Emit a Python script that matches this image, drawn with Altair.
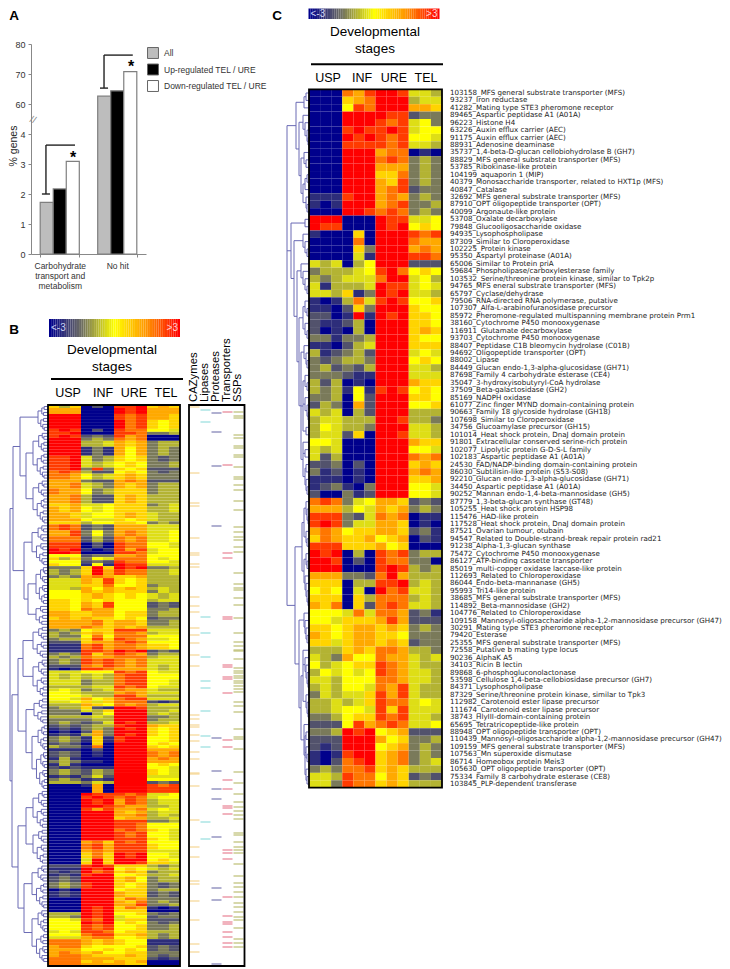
import altair as alt
import pandas as pd

# ---------- Panel A data ----------
A_GROUPS = ["Carbohydrate|transport and|metabolism", "No hit"]
A_SERIES = ["All", "Up-regulated TEL / URE", "Down-regulated TEL / URE"]
A_COLORS = ["#bdbdbd", "#000000", "#ffffff"]
A_VALUES = [[1.72, 2.17, 3.09], [62.6, 64.4, 70.8]]
A_TICKS = [0, 1, 2, 3, 4, 60, 70, 80]

# ---------- Panel C data ----------
C_GENES = """103158_MFS general substrate transporter (MFS)
93237_Iron reductase
41282_Mating type STE3 pheromone receptor
89465_Aspartic peptidase A1 (A01A)
96223_Histone H4
63226_Auxin efflux carrier (AEC)
91175_Auxin efflux carrier (AEC)
88931_Adenosine deaminase
35737_1,4-beta-D-glucan cellobiohydrolase B (GH7)
88829_MFS general substrate transporter (MFS)
53785_Ribokinase-like protein
104199_aquaporin 1 (MIP)
40379_Monosaccharide transporter, related to HXT1p (MFS)
40847_Catalase
32692_MFS general substrate transporter (MFS)
87910_OPT oligopeptide transporter (OPT)
40099_Argonaute-like protein
53708_Oxalate decarboxylase
79848_Glucooligosaccharide oxidase
94935_Lysophospholipase
87309_Similar to Cloroperoxidase
102225_Protein kinase
95350_Aspartyl proteinase (A01A)
65006_Similar to Protein priA
59684_Phospholipase/carboxylesterase family
103532_Serine/threonine protein kinase, similar to Tpk2p
94765_MFS eneral substrate transporter (MFS)
65797_Cyclase/dehydrase
79506_RNA-directed RNA polymerase, putative
107307_Alfa-L-arabinofuranosidase precursor
85972_Pheromone-regulated multispanning membrane protein Prm1
38160_Cytochrome P450 monooxygenase
116911_Glutamate decarboxylase
93703_Cytochrome P450 monooxygenase
88407_Peptidase C1B bleomycin hydrolase (C01B)
94692_Oligopeptide transporter (OPT)
88002_Lipase
84449_Glucan endo-1,3-alpha-glucosidase (GH71)
87698_Family 4 carbohydrate esterase (CE4)
35047_3-hydroxyisobutyryl-CoA hydrolase
37509_Beta-galactosidase (GH2)
85169_NADPH oxidase
61077_Zinc finger MYND domain-containing protein
90663_Family 18 glycoside hydrolase (GH18)
107698_Similar to Cloroperoxidase
34756_Glucoamylase precursor (GH15)
101014_Heat shock protein, DnaJ domain protein
91801_Extracellular conserved serine-rich protein
102077_Lipolytic protein G-D-S-L family
102183_Aspartic peptidase A1 (A01A)
24530_FAD/NADP-binding domain-containing protein
86030_Subtilisin-like protein (S53-S08)
92210_Glucan endo-1,3-alpha-glucosidase (GH71)
34450_Aspartic peptidase A1 (A01A)
90252_Mannan endo-1,4-beta-mannosidase (GH5)
87779_1,3-beta-glucan synthase (GT48)
105255_Heat shock protein HSP98
115476_HAD-like protein
117528_Heat shock protein, DnaJ domain protein
87521_Ovarian tumour, otubain
94547_Related to Double-strand-break repair protein rad21
91238_Alpha-1,3-glucan synthase
75472_Cytochrome P450 monooxygenase
86127_ATP-binding cassette transporter
85019_multi-copper oxidase laccase-like protein
112693_Related to Chloroperoxidase
86044_Endo-beta-mannanase (GH5)
95993_Tri14-like protein
38685_MFS general substrate transporter (MFS)
114892_Beta-mannosidase (GH2)
104776_Related to Chloroperoxidase
109158_Mannosyl-oligosaccharide alpha-1,2-mannosidase precursor (GH47)
30291_Mating type STE3 pheromone receptor
79420_Esterase
25355_MFS general substrate transporter (MFS)
72558_Putative b mating type locus
90236_AlphaK A5
34103_Ricin B lectin
89868_6-phosphogluconolactonase
53598_Cellulose 1,4-beta-cellobiosidase precursor (GH7)
84371_Lysophospholipase
87329_Serine/threonine protein kinase, similar to Tpk3
112982_Carotenoid ester lipase precursor
111674_Carotenoid ester lipase precursor
38743_HlyIII-domain-containing protein
65695_Tetratricopeptide-like protein
88948_OPT oligopeptide transporter (OPT)
110439_Mannosyl-oligosaccharide alpha-1,2-mannosidase precursor (GH47)
109159_MFS general substrate transporter (MFS)
107563_Mn superoxide dismutase
86714_Homeobox protein Meis3
105630_OPT oligopeptide transporter (OPT)
75334_Family 8 carbohydrate esterase (CE8)
103845_PLP-dependent transferase""".split("\n")

# expression levels, one character per replicate: 0 (lowest) ... 9, A, X (highest)
C_ROWS = """000 98A XXA 554
000 789 XXX 455
000 6A9 XXX 887
000 XXX XAA 233
000 XXX A9A 563
000 AXA AXA 566
000 XAX A9A 665
000 AAA A9A 554
000 XXX 899 010
000 XXX 9A9 343
000 XXX 888 343
000 XXX 779 343
000 XXX 87A 343
000 XXX 89A 233
111 AXX 898 343
101 XXX 89A 334
000 XXA 9A9 343
XXX 000 XAA 556
XAA 000 XAX 676
100 070 XXX A9A
000 090 XXX 988
000 073 XXX 898
000 051 XXX AA9
545 046 XXX 222
344 456 AX9 676
434 555 9XX 564
514 445 XAA 565
554 713 XAX 554
101 495 AXA 667
110 273 XXX 766
220 1X1 XAX 776
211 240 XXX 776
201 040 XXX 787
331 334 XXX 766
110 245 XXX 777
412 342 XXX 565
323 443 XXX 676
342 324 XXX 554
333 211 XXX 555
424 010 XXX 877
434 161 AXA 676
334 062 XXX 776
243 082 XXX 667
545 042 XXX 444
455 444 XXA 443
465 443 XXX 554
455 270 XXA 554
665 000 XXX 877
545 000 XXX 665
524 000 XXX 989
223 020 XXX 787
312 010 XXX 898
111 010 XXX 778
123 103 XXX 665
200 312 XXX 665
9A9 356 887 232
888 465 878 343
AAA 325 989 011
AXA 355 887 010
898 677 887 231
798 778 678 021
AAA 777 867 000
XAX 040 A9A 344
XXA 020 A99 330
XXX 000 AXA 434
888 332 9X8 444
777 044 AAX 454
676 050 X9A 554
777 074 999 454
879 072 9A9 554
666 595 998 231
665 777 8A8 222
776 788 787 343
876 788 776 333
775 788 787 233
444 787 998 443
543 866 988 545
645 677 A98 544
465 656 A98 554
554 666 998 554
454 665 98A 544
354 557 A8A 544
445 457 A99 565
445 665 A7A 555
334 677 A9A 554
222 6A8 9A9 556
334 XAX 678 222
222 XXX 867 334
212 XXX 678 343
101 AXX 789 343
102 9AX 789 345
343 99A 787 444
554 A99 687 232
553 A99 787 444""".split("\n")

# ---------- Panel B data: (rows of identical colour, 12 replicates) ----------
B_RUNS = [
(1,"747020AAX787"),(2,"888000XAX888"),(2,"XXX000A9A887"),(3,"XXX000X9A767"),(1,"AXA020A99665"),
(1,"AAX000AA9334"),(1,"AXA232A89000"),(1,"XXX343989000"),(2,"XXX445878344"),(3,"XXX131868343"),
(2,"AAX534767323"),(2,"AAX545676334"),(1,"AAX3A3767222"),(1,"9A9422676323"),(2,"998645787333"),
(1,"888322898222"),(2,"889543878344"),(2,"988634777344"),(3,"889422787444"),(1,"778556777345"),
(2,"878656777445"),(2,"887566787544"),(1,"888655767544"),(1,"777466776343"),
(2,"9A9232888555"),(2,"88A363898556"),(2,"999242989556"),(2,"AAA020A99665"),(1,"XAX101A8A566"),
(1,"XXA000AA9566"),(1,"666233889666"),(1,"747365999656"),(1,"666232A99665"),(1,"766161XAA555"),
(1,"3337X7XAX334"),(2,"4347X8A99445"),(1,"343898778444"),(2,"55587A767444"),(1,"555779667344"),
(1,"554868787454"),(1,"666878777354"),
(2,"666787676545"),(1,"776767666455"),(2,"77687A666232"),(1,"776988666334"),(2,"887788677344"),
(1,"787877676233"),(2,"888897887334"),(1,"888987878444"),
(1,"343677AAA555"),(1,"434787998455"),(1,"433696999666"),(1,"3447A7A98556"),(1,"2227889A9666"),(2,"1119A8998776"),
(1,"111AA9XAX232"),
(1,"343A79A98344"),(1,"434988999455"),(2,"343A9A989555"),(1,"22298A989545"),(1,"101AA9888545"),
(1,"555666A9A655"),(2,"5454549AA666"),
(2,"5553449AA665"),(1,"444455A9A655"),(1,"565345988544"),
(1,"665444898555"),(1,"666544AA8444"),(1,"6658679AA555"),(1,"556757999212"),(1,"444876989455"),
(1,"344721XXA444"),(1,"333547XXX445"),(1,"333046XXX454"),(1,"444454XXX334"),(1,"333344XXX344"),
(1,"343235XAX445"),(1,"232344AXX877"),(1,"121343XAX767"),
(1,"010283XXX767"),(1,"121483XAX767"),(2,"343171AXX667"),(1,"232070XXX676"),(1,"433190XXX767"),
(1,"111020XXX888"),(2,"232010XXX989"),(1,"141000XXX898"),(1,"343110XXX888"),
(1,"141000XXX676"),(1,"212111XXX665"),(2,"343243XXX765"),(1,"121352XXX555"),(1,"343121XXX666"),
(1,"444354XXX232"),(1,"000180XXXA9A"),(2,"000080XXXAAA"),
(1,"000XAAA9A556"),(1,"000AXA9A9566"),(2,"000XAX8A9455"),(1,"000XXA988445"),(1,"000A8A889565"),
(1,"000XXX878455"),(1,"000XXX889454"),(1,"000XXX788445"),(1,"000XXXAAA334"),
(2,"000XXXAA9666"),(1,"000XXX9A9765"),(2,"000XXXA9A665"),(1,"000XXXAAA765"),
(1,"000897A9A666"),(2,"0009A8AAA766"),(1,"000898AAA555"),(2,"000797XAX665"),(1,"0005X7XXX676"),(1,"0007X7XXA775"),
(1,"222AXA777434"),(1,"111XAX676545"),(1,"212X9A787344"),(1,"121AXX667445"),(2,"232XXX786344"),
(2,"343AXX767323"),(1,"010XXX677344"),(2,"121XXX877232"),
(1,"000XXX798333"),(1,"000XXX879343"),(1,"000XXX88A334"),(1,"000XAX798101"),(1,"000XAX777000"),
(1,"444XAX667323"),(1,"443XAX566233"),(1,"665A9X577222"),(1,"666XAX676323"),(2,"666A9A667334"),
(1,"565AA9677444"),(1,"6669AA778434"),(1,"555899667434"),
(2,"999878766111"),(1,"899766667232"),(1,"888667676232"),(1,"898786677333"),(1,"899877787323"),
(1,"999888777212"),(1,"999787878000"),(1,"999888877000"),
]

B_TRACKS = ["CAZymes", "Lipases", "Proteases", "Transporters", "SSPs"]
B_TRACK_COLORS = ["#f3d28a", "#8fdcdc", "#7272ac", "#e5788a", "#b7b96a"]
B_CAZY = [2,68,98,101,133,148,150,159,162,192,201,207,223,230,238,250,261,310,314,320,322,330,336,347,354,368,369,381,415,442,452,476,479,496,515,539,547]
B_LIPASE = [5,17,212,228,252,276,283,306,331,342,417,434]
B_PROTEASE = [8,27,61,121,333,366,384,394,432,483,495,559]
B_TRANSPORT = [7,60,148,153,212,214,260,262,272,274,288,335,342,375,384,401,403,409,445,448,454,492,511,517,519,527,532,538,542]
B_SSP = [7,11,13,30,33,41,43,50,52,62,72,74,80,85,96,105,122,127,132,135,142,147,168,179,183,185,193,200,213,228,237,241,245,
         246,254,263,266,268,271,273,276,278,281,284,287,297,301,307,324,332,334,344,367,378,389,397,402,406,410,414,428,430,
         437,442,445,448,459,471,478,482,487,492,498,502,507,512,515,523,534,538,542]

LEVELS = {"0":-3,"1":-2.4,"2":-1.9,"3":-1.4,"4":-0.8,"5":-0.35,"6":0,"7":0.6,"8":1.2,"9":1.8,"A":2.4,"X":3}
RAMP = [round(-3 + i * 0.1, 1) for i in range(61)]

# ---------- Dendrogram structure (depth, children); int = row; ("r",lo,hi,d) = fine cluster ----------
C_TREE = (22,[
 (13,[(5,[(3,[0,1]),2]),(10,[(6,[3,(4,[4,(2,[5,(1,[6,7])])])]),(8,[(5,[8,(3,[9,10])]),(6,[(4,[(2,[11,12]),13]),(3,[14,(2,[15,16])])])])])]),
 (18,[(4,[17,18]),
  (15,[(6,[19,(4,[20,(2,[21,22])])]),
   (12,[(8,[23,(6,[24,(4,[25,(2,[26,27])])])]),
    (10,[(6,[(4,[28,(2,[29,30])]),(4,[31,(2,[32,33])])]),
     (8,[(5,[34,(3,[35,(2,[36,37])])]),
      (6,[(4,[38,(2,[39,40])]),(4,[41,(2,[42,(1,[43,44])])]),(3,[45,46])]),
      (6,[47,(4,[48,49]),(4,[(3,[50,51]),(3,[52,(2,[53,54])])])])])])])])]),
 (14,[(7,[(5,[(3,[55,(2,[56,(1,[57,58])])]),(3,[59,(2,[60,61])])]),
          (5,[(3,[62,(2,[63,64])]),(4,[65,(3,[66,(2,[67,(1,[68,69])])])])])]),
      (10,[(5,[70,(4,[71,(3,[72,(2,[73,74])])])]),
           (8,[(6,[75,(4,[76,(3,[77,(2,[78,(1,[79,80])])])]),(3,[81,(2,[82,(1,[83,84])])])]),
               (5,[85,(4,[(3,[86,87]),(3,[88,(2,[89,90])]),(3,[91,(2,[92,93])])])])])])])])

B_TREE = (38,[
 (35,[(28,[("r",0,8,10),(22,[("r",9,24,15),("r",25,39,15)])]),
      (24,[("r",40,53,16),(20,[("r",54,66,12),("r",67,73,12)])])]),
 (36,[(30,[(25,[("r",74,84,15),("r",85,97,15)]),
           (22,[("r",98,106,14),("r",107,128,16)])]),
      (30,[(22,[("r",129,141,15),("r",142,153,15)]),
           (24,[("r",154,168,16),("r",169,186,16)])])])])

# ---------- helpers (all pixel arguments are page coordinates) ----------
M = 8
W, H = 714, 959
def rng(a, b):
    return [a - M, b - M]

def flatten(node, segs):
    """Return (depth, y) of a node and add its branches to segs."""
    if isinstance(node, int):
        return 0, node + 0.5
    if node[0] == "r":
        _, lo, hi, d = node
        if lo == hi:
            return 0, lo + 0.5
        if hi - lo == 1:
            node = (d, [lo, hi])
        else:
            mid = lo + max(0, int((hi - lo) * 0.42))
            node = (d, [("r", lo, mid, d * 0.62), ("r", mid + 1, hi, d * 0.72)])
    d, children = node
    pts = [flatten(c, segs) for c in children]
    for cd, cy in pts:
        segs.append({"d1": cd, "d2": d, "y1": cy, "y2": cy})
    y0, y1 = pts[0][1], pts[-1][1]
    segs.append({"d1": d, "d2": d, "y1": y0, "y2": y1})
    return d, (y0 + y1) / 2

def dendro(tree, maxd, x0, x1, nrows, y0, y1):
    segs = []
    flatten(tree, segs)
    sx = alt.Scale(domain=[maxd, 0], range=rng(x0, x1), nice=False, zero=False)
    sy = alt.Scale(domain=[0, nrows], range=rng(y0, y1), nice=False, zero=False)
    return alt.Chart(pd.DataFrame(segs)).mark_rule(color="#6a6ab4", strokeWidth=1).encode(
        x=alt.X("d1:Q", scale=sx, axis=None), x2="d2:Q",
        y=alt.Y("y1:Q", scale=sy, axis=None), y2="y2:Q")

HEAT_COLOR = alt.Color("v:Q", legend=None, scale=alt.Scale(
    domain=[-3, -1.5, 0, 1.5, 3], interpolate="rgb",
    range=["#00008c", "#707060", "#ffff00", "#ff9400", "#ff0000"]))

def heat(rows, x0, x1, y0, y1):
    recs = [{"r": i, "c": j, "v": LEVELS[ch]} for i, row in enumerate(rows) for j, ch in enumerate(row)]
    return alt.Chart(pd.DataFrame(recs)).mark_rect().encode(
        x=alt.X("c:O", axis=None, scale=alt.Scale(type="band", domain=list(range(12)), range=rng(x0, x1), paddingInner=0, paddingOuter=0)),
        y=alt.Y("r:O", axis=None, scale=alt.Scale(type="band", domain=list(range(len(rows))), range=rng(y0, y1), paddingInner=0, paddingOuter=0)),
        color=HEAT_COLOR)

def frame(x0, x1, y0, y1, w=1.8):
    return alt.Chart(pd.DataFrame({"k": [0]})).mark_rect(fill=None, stroke="black", strokeWidth=w).encode(
        x=alt.value(x0 - M), x2=alt.value(x1 - M), y=alt.value(y0 - M), y2=alt.value(y1 - M))

def hline(x0, x1, y, w=2, color="black"):
    return alt.Chart(pd.DataFrame({"k": [0]})).mark_rule(color=color, strokeWidth=w).encode(
        x=alt.value(x0 - M), x2=alt.value(x1 - M), y=alt.value(y - M))

def label(t, x, y, size=12, font="Liberation Sans", color="black", align="center", angle=0, weight="normal", baseline="middle"):
    return alt.Chart(pd.DataFrame({"t": [t]})).mark_text(
        fontSize=size, font=font, color=color, align=align, angle=angle, fontWeight=weight, baseline=baseline).encode(
        text="t:N", x=alt.value(x - M), y=alt.value(y - M))

def colorbar(x0, x1, y0, y1, ytext):
    bar = alt.Chart(pd.DataFrame({"v": RAMP})).mark_rect().encode(
        x=alt.X("v:O", axis=None, scale=alt.Scale(type="band", domain=RAMP, range=rng(x0, x1), paddingInner=0, paddingOuter=0)),
        y=alt.value(y0 - M), y2=alt.value(y1 - M), color=HEAT_COLOR)
    return [bar, label("<-3", x0 + 2, ytext, size=10, color="#c9d2f2", align="left"),
            label(">3", x1 - 2, ytext, size=10, color="#ffd0d0", align="right")]

def stage_header(cx, y1, y2, x0, x1, yrule, xs, ylab):
    out = [label("Developmental", cx, y1, size=13.5), label("stages", cx, y2, size=13.5), hline(x0, x1, yrule)]
    for s, x in zip(["USP", "INF", "URE", "TEL"], xs):
        out.append(label(s, x, ylab, size=12.5))
    return out

# ---------- Panel A ----------
a_df = pd.DataFrame([{"g": g, "s": s, "v": A_VALUES[i][j]}
                     for i, g in enumerate(A_GROUPS) for j, s in enumerate(A_SERIES)])
a_y = alt.Scale(domain=[0, 4, 60, 80], range=[254 - M, 134 - M, 104 - M, 44 - M], nice=False, zero=False)
a_bars = alt.Chart(a_df).mark_bar(stroke="#7f7f7f", strokeWidth=1.2).encode(
    x=alt.X("g:N", title=None, sort=A_GROUPS,
            scale=alt.Scale(domain=A_GROUPS, range=rng(31, 146), paddingInner=0.32, paddingOuter=0.16),
            axis=alt.Axis(orient="bottom", offset=-(H - (254 - M)), labelAngle=0, labelExpr="split(datum.label,'|')",
                          labelFont="Liberation Sans", labelFontSize=8.5, labelColor="#333", labelPadding=4,
                          labelLimit=120, labelLineHeight=10, domainColor="#888", tickColor="#888", tickSize=3,
                          tickBand="extent", grid=False)),
    xOffset=alt.XOffset("s:N", sort=A_SERIES, scale=alt.Scale(domain=A_SERIES)),
    y=alt.Y("v:Q", title=None, scale=a_y,
            axis=alt.Axis(orient="left", offset=-(31 - M), values=A_TICKS, labelFont="Liberation Sans", labelFontSize=9,
                          labelColor="#333", domainColor="#888", tickColor="#888", tickSize=3, labelPadding=3,
                          grid=False, format="d", labelOverlap=False)),
    color=alt.Color("s:N", sort=A_SERIES, scale=alt.Scale(domain=A_SERIES, range=A_COLORS),
                    legend=alt.Legend(orient="none", legendX=147 - M, legendY=47 - M, title=None, symbolType="square",
                                      symbolSize=120, symbolStrokeColor="#666", symbolStrokeWidth=1, symbolOpacity=1,
                                      labelFont="Liberation Sans", labelFontSize=8.5, labelColor="#333",
                                      rowPadding=0.5, labelOffset=5)))

# brackets: horizontal run, vertical run and small cap, for each significance mark
br_recs = [
    {"x": 0.26, "x2": 0.765, "y": 3.63, "y2": 3.63}, {"x": 0.26, "x2": 0.26, "y": 2, "y2": 3.63}, {"x": 0.19, "x2": 0.33, "y": 2, "y2": 2},
    {"x": 1.27, "x2": 1.77, "y": 76.3, "y2": 76.3}, {"x": 1.27, "x2": 1.27, "y": 65.3, "y2": 76.3}, {"x": 1.20, "x2": 1.34, "y": 65.3, "y2": 65.3},
]
a_brackets = alt.Chart(pd.DataFrame(br_recs)).mark_rule(color="#222", strokeWidth=1.4).encode(
    x=alt.X("x:Q", axis=None, scale=alt.Scale(domain=[0, 2], range=rng(31, 146), nice=False, zero=False)), x2="x2:Q",
    y=alt.Y("y:Q", axis=None, scale=a_y), y2="y2:Q")

layers = [a_bars, a_brackets,
          label("*", 73, 158, size=16, weight="bold"),
          label("*", 131, 67, size=16, weight="bold"),
          label("% genes", 14, 146, size=10.5, angle=270, color="#222"),
          label("//", 33, 120, size=10, color="#888", angle=20),
          label("A", 14, 16, size=13.5, weight="bold"),
          label("B", 14, 330, size=13.5, weight="bold"),
          label("C", 277, 16, size=13.5, weight="bold")]

# ---------- Panel B ----------
b_rows = [r.replace(" ", "") for n, r in B_RUNS for _ in range(n)]
layers += [dendro(B_TREE, 38, 10, 48, len(b_rows), 405, 966), heat(b_rows, 48, 180, 405, 966), frame(48, 180, 405, 966)]
layers += colorbar(49, 180, 319, 337, 328)
layers += stage_header(112, 350, 367, 51, 183, 379, [68, 103, 134, 166], 393)

trk = pd.DataFrame([{"t": t, "p": p} for t, ps in zip(B_TRACKS, [B_CAZY, B_LIPASE, B_PROTEASE, B_TRANSPORT, B_SSP]) for p in ps])
layers.append(alt.Chart(trk).mark_tick(size=10, thickness=1.6).encode(
    x=alt.X("t:N", axis=None, sort=B_TRACKS, scale=alt.Scale(type="band", domain=B_TRACKS, range=rng(189, 244), paddingInner=0, paddingOuter=0)),
    y=alt.Y("p:Q", axis=None, scale=alt.Scale(domain=[0, 561], range=rng(405, 966), nice=False, zero=False)),
    color=alt.Color("t:N", legend=None, scale=alt.Scale(domain=B_TRACKS, range=B_TRACK_COLORS))))
layers.append(frame(189, 244.5, 405, 966))
for t, x in zip(B_TRACKS, [194, 205, 216, 227, 238]):
    layers.append(label(t, x, 402, size=11.3, angle=270, align="left"))

# ---------- Panel C ----------
c_rows = [r.replace(" ", "") for r in C_ROWS]
layers += [dendro(C_TREE, 22, 287, 309, len(c_rows), 89.3, 787.7), heat(c_rows, 309, 442, 89.3, 787.7), frame(309, 442, 89.3, 787.7)]
layers += colorbar(308.5, 439.5, 8.5, 19, 13.5)
layers += stage_header(375, 32, 49, 311, 443, 64.3, [328, 362, 394, 426], 78)

c_lab = pd.DataFrame({"g": C_GENES, "r": list(range(len(C_GENES)))})
layers.append(alt.Chart(c_lab).mark_text(align="left", baseline="middle", fontSize=7.1, font="DejaVu Sans", color="#222").encode(
    text="g:N",
    x=alt.value(450 - M),
    y=alt.Y("r:O", axis=None, scale=alt.Scale(type="band", domain=list(range(len(C_GENES))), range=rng(89.3, 787.7), paddingInner=0, paddingOuter=0))))

chart = alt.layer(*layers).resolve_scale(
    x="independent", y="independent", color="independent").properties(
    width=W, height=H, padding=0, autosize=alt.AutoSizeParams(type="none"), background="white"
).configure_view(stroke=None)

chart.save("out.html", embed_options={"renderer": "svg", "actions": False})
